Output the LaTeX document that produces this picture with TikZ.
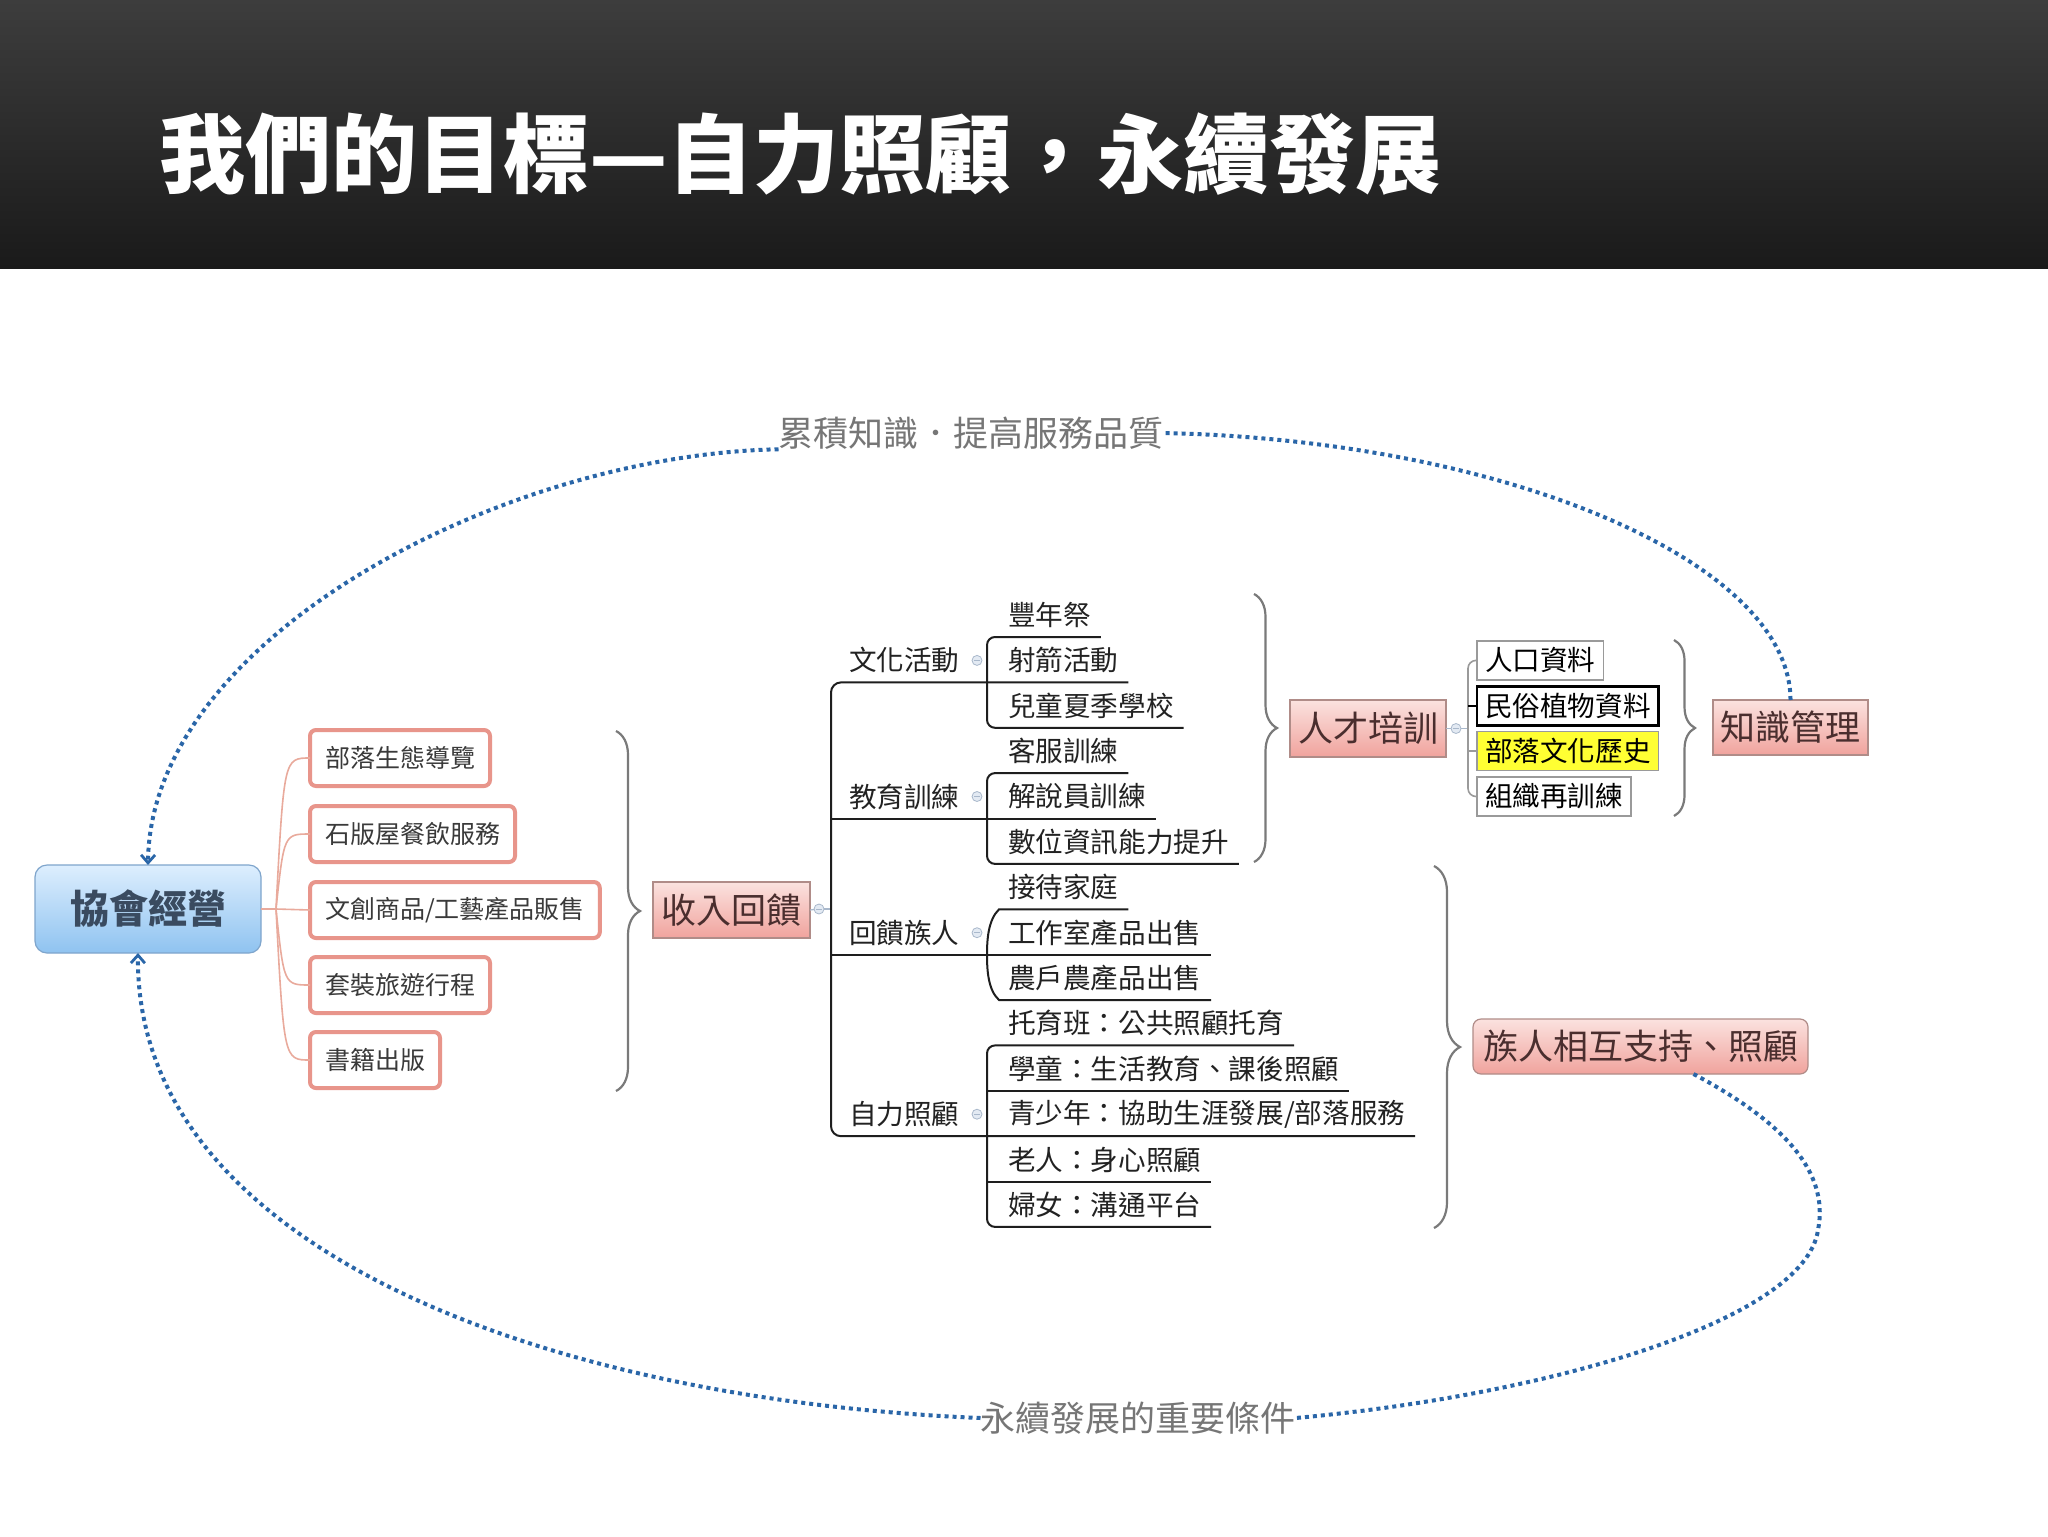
\documentclass[tikz,border=0pt]{standalone}
\usepackage{fontspec}
\newfontfamily\cjk{Noto Sans CJK TC}
\usetikzlibrary{calc,decorations.pathreplacing,arrows.meta}
\newcommand\myfs[1]{\fontsize{#1}{#1}\selectfont}
\definecolor{hdrtop}{HTML}{3D3D3D}
\definecolor{hdrbot}{HTML}{1A1A1A}
\definecolor{ptop}{HTML}{FBE2DF}
\definecolor{pbot}{HTML}{F0A39D}
\definecolor{pbord}{HTML}{B08C88}
\definecolor{ptext}{HTML}{4A2E2E}
\definecolor{btop}{HTML}{DDEEFE}
\definecolor{bbot}{HTML}{8FC3F0}
\definecolor{bbord}{HTML}{7FA5CC}
\definecolor{btext}{HTML}{3A4B60}
\definecolor{salm}{HTML}{E8958B}
\definecolor{salmline}{HTML}{E9AA9C}
\definecolor{dotblue}{HTML}{2A66A8}
\definecolor{labgray}{HTML}{767676}
\definecolor{bracegray}{HTML}{7A7A7A}
\definecolor{treeline}{HTML}{1E1E1E}
\definecolor{leaftext}{HTML}{222222}
\definecolor{wtext}{HTML}{3A3A3A}
\definecolor{rbord}{HTML}{9A9A9A}
\definecolor{hl}{HTML}{FFFF33}
\definecolor{mkfill}{HTML}{E3EAF3}
\definecolor{mkdraw}{HTML}{A9B8CB}
\begin{document}
\begin{tikzpicture}[x=0.5pt,y=-0.5pt,
 every node/.style={inner sep=0pt, outer sep=0pt},
 wbox/.style={draw=salm, line width=2pt, rounded corners=3pt, fill=white, minimum height=28pt, inner xsep=7.5pt, anchor=west, font=\cjk\myfs{12.5}, text=wtext},
 pbox/.style={draw=pbord, line width=0.6pt, top color=ptop, bottom color=pbot, minimum height=28pt, font=\cjk\myfs{17.5}, text=ptext},
 rbox/.style={draw=rbord, line width=0.6pt, fill=white, minimum height=19.5pt, inner xsep=4pt, anchor=west, font=\cjk\myfs{13.8}, text=black},
 leaf/.style={anchor=west, font=\cjk\myfs{13.8}, text=leaftext},
 tl/.style={draw=treeline, line width=1pt},
 rtl/.style={draw=rbord, line width=0.8pt},
 fan/.style={draw=salmline, line width=0.8pt},
 brc/.style={draw=bracegray, line width=1.1pt, decorate, decoration={brace, amplitude=#1}},
 dotc/.style={draw=dotblue, line width=2pt, dash pattern=on 2pt off 2pt},
 mk/.style={circle, draw=mkdraw, fill=mkfill, line width=0.4pt, minimum size=5pt,
   path picture={\draw[mkdraw, line width=0.4pt] ([xshift=-1.3pt]path picture bounding box.center) -- ([xshift=1.3pt]path picture bounding box.center);}},
 mkline/.style={draw=mkdraw, line width=0.6pt},
 lab/.style={font=\cjk\myfs{17.5}, text=labgray},
]
\useasboundingbox (0,0) rectangle (2048,1536);
\fill[white] (0,0) rectangle (2048,1536);
% header
\shade[top color=hdrtop, bottom color=hdrbot] (0,0) rectangle (2048,268);
\node[anchor=west, font=\cjk\bfseries\myfs{43}, text=white] (title) at (159,154) {我們的目標—自力照顧，永續發展};

% left root
\node[pbox, minimum width=113pt, minimum height=44pt, rounded corners=6pt, draw=bbord, top color=btop, bottom color=bbot, text=btext, font=\cjk\bfseries\myfs{19.5}] (hui) at (148,909) {協會經營};

\node[wbox] (w1) at (310,758) {部落生態導覽};
\node[wbox] (w2) at (310,834) {石版屋餐飲服務};
\node[wbox] (w3) at (310,910) {文創商品/工藝產品販售};
\node[wbox] (w4) at (310,985) {套裝旅遊行程};
\node[wbox] (w5) at (310,1060) {書籍出版};

\coordinate (fj) at (276,909);
\draw[fan] (hui.east) -- (fj);
\draw[fan] (fj) .. controls (284,758) .. (w1.west);
\draw[fan] (fj) .. controls (284,834) .. (w2.west);
\draw[fan] (fj) -- (w3.west);
\draw[fan] (fj) .. controls (284,985) .. (w4.west);
\draw[fan] (fj) .. controls (284,1060) .. (w5.west);

\draw[brc=12pt] (616,731) -- (616,1091);

\node[pbox, minimum width=78.5pt] (srhk) at (731.5,910) {收入回饋};
\node[mk] (m0) at (819,909) {};
\coordinate (jv) at (831,909);
\draw[mkline] (srhk.east) -- (m0);
\draw[mkline] (m0) -- (jv);

% parents
\node[leaf] (p1) at (849,660.4) {文化活動};
\node[leaf] (p4) at (849,796.5) {教育訓練};
\node[leaf] (p7) at (849,932.7) {回饋族人};
\node[leaf] (p11) at (849,1114.2) {自力照顧};
\node[mk] (mp1) at (977,660.4) {};
\node[mk] (mp4) at (977,796.5) {};
\node[mk] (mp7) at (977,932.7) {};
\node[mk] (mp11) at (977,1114.2) {};

% children
\node[leaf] (c0) at (1008,615.0) {豐年祭};
\node[leaf] (c1) at (1008,660.4) {射箭活動};
\node[leaf] (c2) at (1008,705.8) {兒童夏季學校};
\node[leaf] (c3) at (1008,751.1) {客服訓練};
\node[leaf] (c4) at (1008,796.5) {解說員訓練};
\node[leaf] (c5) at (1008,841.9) {數位資訊能力提升};
\node[leaf] (c6) at (1008,887.3) {接待家庭};
\node[leaf] (c7) at (1008,932.7) {工作室產品出售};
\node[leaf] (c8) at (1008,978.0) {農戶農產品出售};
\node[leaf] (c9) at (1008,1023.4) {托育班：公共照顧托育};
\node[leaf] (c10) at (1008,1068.8) {學童：生活教育、課後照顧};
\node[leaf] (c11) at (1008,1114.2) {青少年：協助生涯發展/部落服務};
\node[leaf] (c12) at (1008,1159.6) {老人：身心照顧};
\node[leaf] (c13) at (1008,1204.9) {婦女：溝通平台};

% main tree lines
\draw[tl, rounded corners=5pt] ($(c1.east)+(10,22)$) -- (831,682.4) -- (831,1136.2) -- ($(c11.east)+(10,22)$);
\draw[tl] (831,818.5) -- ($(c4.east)+(10,22)$);
\draw[tl] (831,954.7) -- ($(c7.east)+(10,22)$);
\draw[tl, rounded corners=4pt] ($(c0.east)+(10,22)$) -- (987,637.0) -- (987,727.8) -- ($(c2.east)+(10,22)$);
\draw[tl, rounded corners=4pt] ($(c3.east)+(10,22)$) -- (987,773.1) -- (987,863.9) -- ($(c5.east)+(10,22)$);
\draw[tl] ($(c6.east)+(10,22)$) -- (999,909.3) .. controls (988,920) and (987,940) .. (987,954.7) .. controls (987,970) and (988,990) .. (999,1000) -- ($(c8.east)+(10,22)$);
\draw[tl, rounded corners=4pt] ($(c9.east)+(10,22)$) -- (987,1045.4) -- (987,1226.9) -- ($(c13.east)+(10,22)$);
\draw[tl] (987,1090.8) -- ($(c10.east)+(10,22)$);
\draw[tl] (987,1181.6) -- ($(c12.east)+(10,22)$);

% right upper part
\draw[brc=11.5pt] (1254,594) -- (1254,862);
\node[pbox, minimum width=78pt, minimum height=28.5pt] (rcpx) at (1368,728.5) {人才培訓};
\node[mk] (mr) at (1456,728.5) {};
\coordinate (rv) at (1468,728.5);
\draw[mkline] (rcpx.east) -- (mr);
\draw[mkline] (mr) -- (rv);
\node[rbox] (k1) at (1477,660.4) {人口資料};
\node[rbox, draw=black, line width=1.2pt] (k2) at (1477,705.8) {民俗植物資料};
\node[rbox, fill=hl] (k3) at (1477,751.1) {部落文化歷史};
\node[rbox] (k4) at (1477,796.5) {組織再訓練};
\draw[rtl, rounded corners=4pt] (k1.west) -- (rv |- k1.west) -- (rv |- k4.west) -- (k4.west);
\draw[rtl] (rv |- k3.west) -- (k3.west);
\draw[draw=black, line width=1.3pt] (rv |- k2.west) -- (k2.west);

\draw[brc=10.5pt] (1674,640) -- (1674,816);
\node[pbox, minimum width=77.5pt, minimum height=27.5pt] (zs) at (1790.5,727.5) {知識管理};

\draw[brc=13pt] (1434,866) -- (1434,1228);
\node[pbox, minimum width=167.5pt, minimum height=27.5pt, rounded corners=4pt] (zr) at (1640.5,1046.5) {族人相互支持、照顧};

% dotted feedback loops
\node[lab] (lab1) at (971,433) {累積知識．提高服務品質};
\node[lab] (lab2) at (1138,1418) {永續發展的重要條件};
\draw[dotc] (zs.north) .. controls (1790,560) and (1500,440) .. (lab1.east);
\draw[dotc, -{Straight Barb[length=4pt,width=7pt,line width=1.4pt]}] (lab1.south west) .. controls (500,455) and (150,640) .. (hui.north);
\draw[dotc] ($(zr.south)+(53,0)$) .. controls (1780,1120) and (1830,1170) .. (1818,1230) .. controls (1805,1320) and (1550,1395) .. (lab2.east);
\draw[dotc, -{Straight Barb[length=4pt,width=7pt,line width=1.4pt]}] (lab2.west) .. controls (550,1400) and (135,1250) .. ($(hui.south)+(-10,0)$);
\end{tikzpicture}
\end{document}
